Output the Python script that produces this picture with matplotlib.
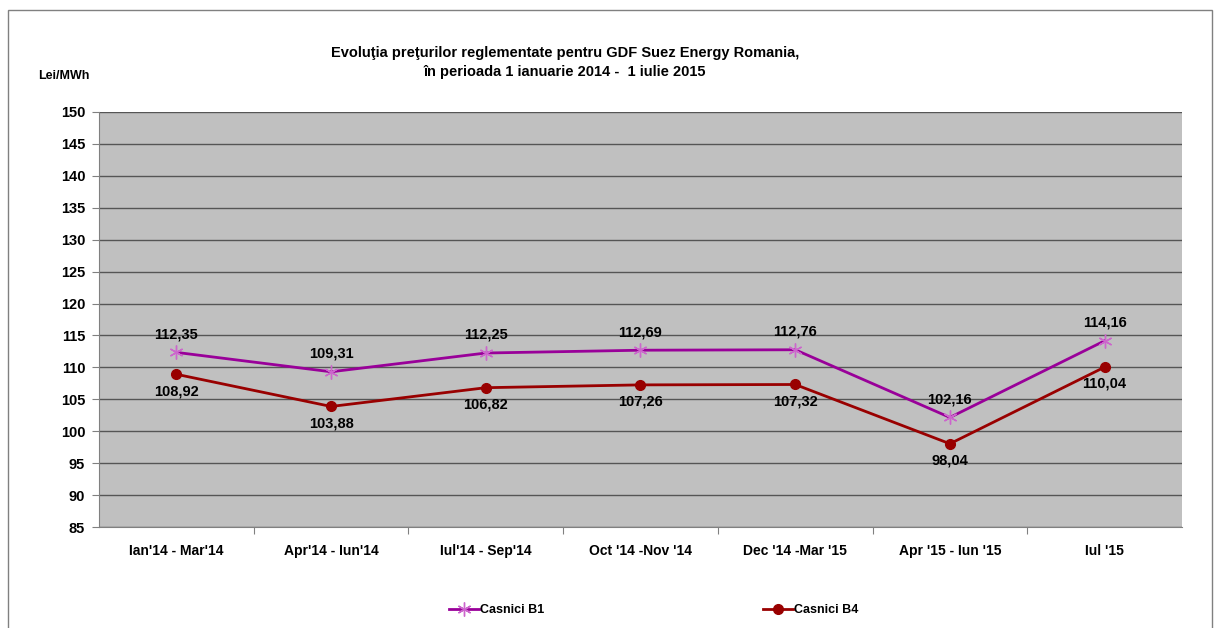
import matplotlib
matplotlib.use("Agg")
import matplotlib.pyplot as plt
from matplotlib.patches import Rectangle

plt.rcParams['font.family'] = ['Liberation Sans', 'DejaVu Sans']
plt.rcParams['font.weight'] = 'bold'

categories = ["Ian'14 - Mar'14", "Apr'14 - Iun'14", "Iul'14 - Sep'14", "Oct '14 -Nov '14",
              "Dec '14 -Mar '15", "Apr '15 - Iun '15", "Iul '15"]
b1 = [112.35, 109.31, 112.25, 112.69, 112.76, 102.16, 114.16]
b4 = [108.92, 103.88, 106.82, 107.26, 107.32, 98.04, 110.04]
yticks = list(range(85, 151, 5))


def fmt(v):
    return ("%.2f" % v).replace(".", ",")


fig = plt.figure(figsize=(12.15, 6.28), dpi=100)
ax = fig.add_axes([0.0815, 0.1608, 0.8913, 0.6609])
ax.set_facecolor("#C0C0C0")

x = list(range(len(categories)))
ax.plot(x, b1, color="#990099", lw=2, marker=(6, 2, 0), ms=10, mew=1, mec="#CC66CC",
        label="Casnici B1", zorder=3)
ax.plot(x, b4, color="#990000", lw=2, marker="o", ms=7, label="Casnici B4", zorder=3)

for i in x:
    ax.annotate(fmt(b1[i]), (i, b1[i]), xytext=(0, 8), textcoords="offset points",
                ha="center", va="bottom", fontsize=10.5, fontweight="bold")
    ax.annotate(fmt(b4[i]), (i, b4[i]), xytext=(0, -7), textcoords="offset points",
                ha="center", va="top", fontsize=10.5, fontweight="bold")

ax.set_xlim(-0.5, len(categories) - 0.5)
ax.set_ylim(85, 150)
ax.set_yticks(yticks)
ax.set_yticklabels([str(t) for t in yticks], fontsize=10.5, fontweight="bold")
ax.set_xticks([i + 0.5 for i in x[:-1]], minor=False)
ax.set_xticklabels([])
ax.set_xticks(x, minor=True)
ax.set_xticklabels(categories, minor=True, fontsize=10, fontweight="bold")
ax.tick_params(axis="x", which="minor", length=0, pad=12)
ax.tick_params(axis="x", which="major", length=5, color="#808080")
ax.tick_params(axis="y", length=5, color="#808080", pad=5)
ax.grid(axis="y", color="#555555", lw=1)
ax.set_axisbelow(True)
for s in ["top", "right"]:
    ax.spines[s].set_visible(False)
ax.spines["left"].set_color("#808080")
ax.spines["bottom"].set_color("#808080")

fig.text(0.465, 0.9, "Evoluţia preţurilor reglementate pentru GDF Suez Energy Romania,\n"
         "în perioada 1 ianuarie 2014 -  1 iulie 2015",
         ha="center", va="center", fontsize=10.5, fontweight="bold", linespacing=1.45)
fig.text(0.031, 0.879, "Lei/MWh", fontsize=9, fontweight="bold", va="center")

fig.legend(loc="center", bbox_to_anchor=(0.538, 0.028), ncol=2, frameon=False,
           fontsize=9, columnspacing=17.5, handlelength=2.4, handletextpad=0.1)

fig.patches.append(Rectangle((8 / 1215, -0.01), 1204 / 1215, 1 - 10 / 628 + 0.01,
                             transform=fig.transFigure, fill=False,
                             edgecolor="#808080", lw=1))

fig.savefig("out.png", dpi=100)
